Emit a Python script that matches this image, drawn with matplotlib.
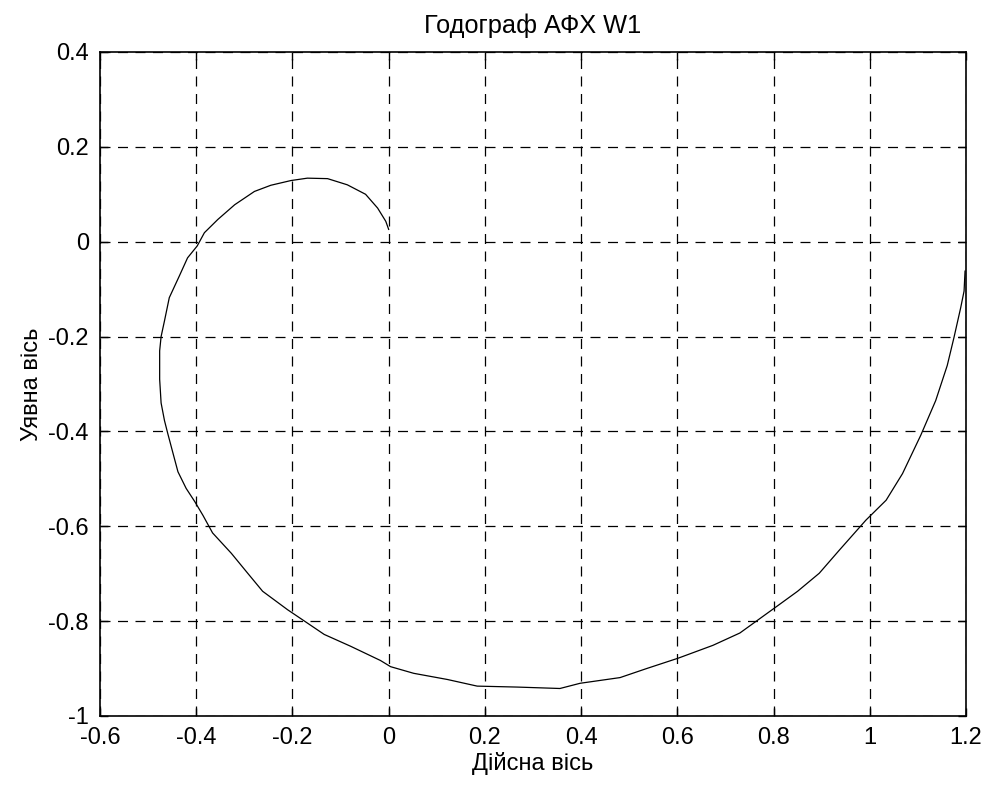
import numpy as np
import matplotlib
matplotlib.use("Agg")
from matplotlib import pyplot as plt

# годограф АФХ W1: дійсна та уявна частини, від низьких частот до високих
re_w = [1.198, 1.196, 1.189, 1.175, 1.161, 1.137, 1.106, 1.068, 1.034, 0.992,
        0.937, 0.895, 0.850, 0.812, 0.771, 0.730, 0.674, 0.602, 0.536, 0.481,
        0.398, 0.356, 0.267, 0.184, 0.122, 0.052, 0.004, -0.017, -0.079, -0.134,
        -0.169, -0.210, -0.262, -0.293, -0.327, -0.366, -0.386, -0.403, -0.421, -0.438,
        -0.448, -0.459, -0.466, -0.473, -0.476, -0.476, -0.473, -0.466, -0.456, -0.435,
        -0.418, -0.398, -0.383, -0.355, -0.320, -0.279, -0.245, -0.203, -0.169, -0.127,
        -0.086, -0.048, -0.023, -0.006, 0.000]
im_w = [-0.062, -0.104, -0.139, -0.202, -0.261, -0.335, -0.408, -0.489, -0.545, -0.587,
        -0.650, -0.699, -0.737, -0.765, -0.795, -0.825, -0.851, -0.878, -0.900, -0.919,
        -0.931, -0.942, -0.939, -0.937, -0.923, -0.910, -0.896, -0.883, -0.853, -0.828,
        -0.804, -0.776, -0.737, -0.699, -0.657, -0.614, -0.577, -0.548, -0.520, -0.485,
        -0.447, -0.405, -0.377, -0.340, -0.290, -0.230, -0.200, -0.167, -0.118, -0.072,
        -0.034, -0.009, 0.019, 0.047, 0.078, 0.106, 0.119, 0.129, 0.134, 0.133,
        0.120, 0.100, 0.071, 0.043, 0.026]

xticks = [-0.6, -0.4, -0.2, 0, 0.2, 0.4, 0.6, 0.8, 1, 1.2]
xlabels = ['-0.6', '-0.4', '-0.2', '0', '0.2', '0.4', '0.6', '0.8', '1', '1.2']
yticks = [-1, -0.8, -0.6, -0.4, -0.2, 0, 0.2, 0.4]
ylabels = ['-1', '-0.8', '-0.6', '-0.4', '-0.2', '0', '0.2', '0.4']

plt.rcParams['font.family'] = ['Liberation Sans', 'DejaVu Sans']
plt.rcParams['font.size'] = 17

fig = plt.figure(figsize=(9.85, 7.85), dpi=100)
ax = fig.add_axes([100/985, 1-716/785, 866/985, 664/785])

ax.plot(re_w, im_w, color='black', lw=0.9)

ax.set_xlim(-0.6, 1.2)
ax.set_ylim(-1, 0.4)
ax.set_xticks(xticks)
ax.set_xticklabels(xlabels)
ax.set_yticks(yticks)
ax.set_yticklabels(ylabels)
ax.grid(True, color='black', lw=0.9, ls=(0, (8, 6)))
ax.tick_params(direction='in', length=6, width=1, top=True, right=True, pad=8)
for s in ax.spines.values():
    s.set_linewidth(1.2)

ax.set_title('Годограф АФХ W1', fontsize=18.3, pad=14)
ax.set_xlabel('Дійсна вісь', labelpad=2)
ax.set_ylabel('Уявна вісь', labelpad=4)

fig.savefig('out.png', dpi=100)
